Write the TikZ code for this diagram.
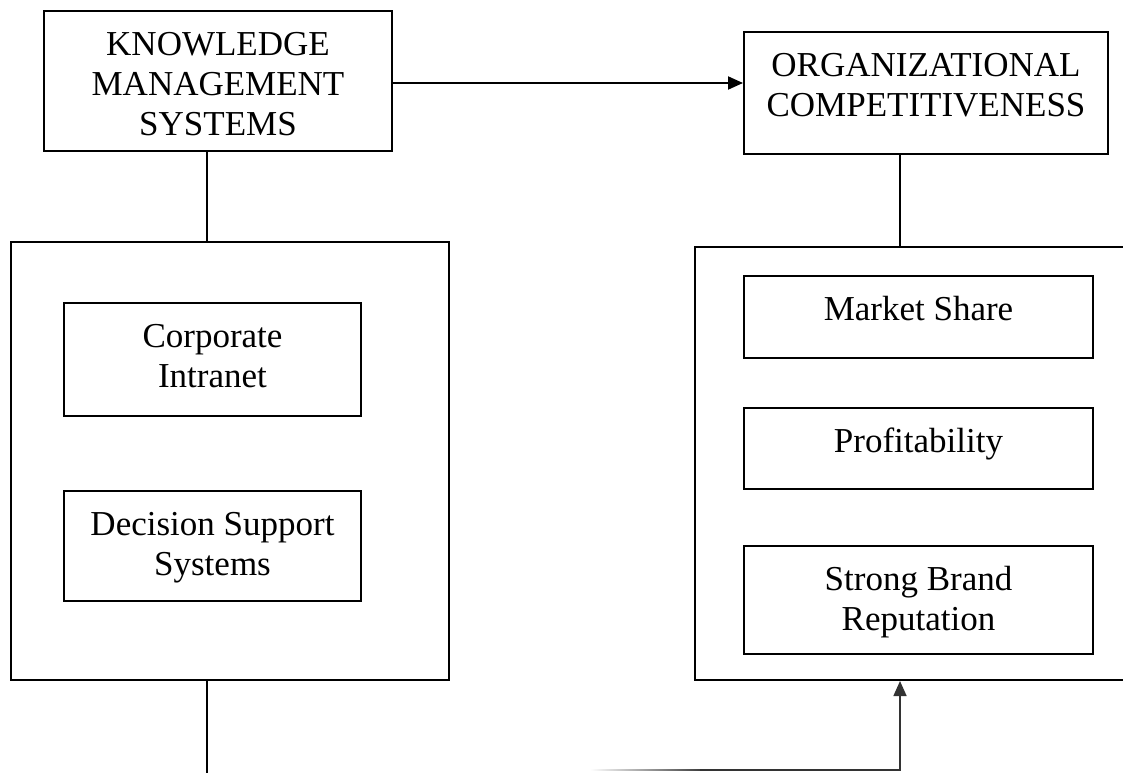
\documentclass[tikz,border=0pt]{standalone}
\usepackage{fontspec}
\setmainfont{Liberation Serif}
\usetikzlibrary{arrows.meta}
% top-aligned, centred text in a box of fixed size
\newcommand\boxtext[3]{\begin{minipage}[t][#2][t]{#1}\centering\vspace*{20pt}\rule{0pt}{24pt}#3\end{minipage}}
\begin{document}
\begin{tikzpicture}[x=1pt,y=-1pt,
  box/.style={draw=black, line width=2pt, inner sep=0pt, anchor=north west,
              font=\fontsize{35}{40}\selectfont},
  frame/.style={draw=black, line width=2pt, inner sep=0pt, anchor=north west},
  link/.style={draw=black, line width=2pt},
  arrowlink/.style={-{Triangle[length=15pt,width=13pt]}}]
\useasboundingbox (0,0) rectangle (1123,772);
\clip (0,0) rectangle (1123,772);

% headline boxes
\node[box] (kms) at (43,10) {\boxtext{348pt}{140pt}{KNOWLEDGE\\MANAGEMENT\\SYSTEMS}};
\node[box] (org) at (743,31) {\boxtext{364pt}{122pt}{ORGANIZATIONAL\\COMPETITIVENESS}};

% group frames
\node[frame, minimum width=438pt, minimum height=438pt] (lout) at (10,241) {};
\node[frame, minimum width=460pt, minimum height=433pt] (rout) at (694,246) {};

% left group members
\node[box] (ci) at (63,302) {\boxtext{297pt}{113pt}{Corporate\\Intranet}};
\node[box] (dss) at (63,490) {\boxtext{297pt}{110pt}{Decision Support\\Systems}};

% right group members
\node[box] (ms) at (743,275) {\boxtext{349pt}{82pt}{Market Share}};
\node[box] (pr) at (743,407) {\boxtext{349pt}{81pt}{Profitability}};
\node[box] (sb) at (743,545) {\boxtext{349pt}{108pt}{Strong Brand\\Reputation}};

% guide coordinates for the vertical connectors
\coordinate (lx) at (207,790);
\coordinate (rx) at (900,0);
\coordinate (bstart) at (700,770);

% connectors
\draw[link, arrowlink] ([yshift=-2pt]kms.east) -- ([yshift=-2pt]kms.east -| org.west);
\draw[link] (kms.south -| lx) -- (lout.north -| lx);
\draw[link] (org.south -| rx) -- (rout.north -| rx);
\draw[link] (lout.south -| lx) -- (lx);
\shade[left color=white, right color=black!75] (590,769.2) rectangle (700,770.8);
\draw[draw=black!80, line width=1.6pt, arrowlink] (bstart) -| (rout.south -| rx);
\end{tikzpicture}
\end{document}
